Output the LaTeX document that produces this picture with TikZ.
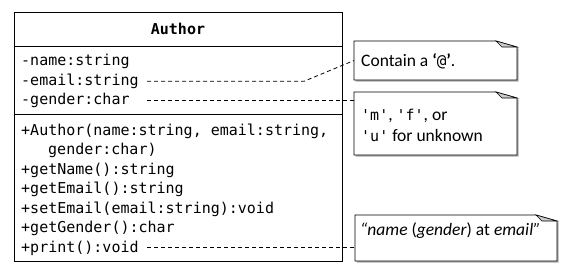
\documentclass[tikz,border=0pt]{standalone}
\usepackage{fontspec}
\setmainfont{Carlito}
\setmonofont{DejaVu Sans Mono}
\usetikzlibrary{calc}
\newcommand\notedraw[1]{%
  \fill[gray!65] ([xshift=1.6pt,yshift=-1.6pt]#1.north west) -- ([xshift=-19.4pt,yshift=-1.6pt]#1.north east) -- ([xshift=1.6pt,yshift=-7.6pt]#1.north east) -- ([xshift=1.6pt,yshift=-1.6pt]#1.south east) -- ([xshift=1.6pt,yshift=-1.6pt]#1.south west) -- cycle;
  \draw[notedge] (#1.north west) -- ([xshift=-21pt]#1.north east) -- ([yshift=-6pt]#1.north east) -- (#1.south east) -- (#1.south west) -- cycle;
  \draw[notefold] ([xshift=-21pt]#1.north east) -- ([xshift=-15pt,yshift=-6pt]#1.north east) -- ([yshift=-6pt]#1.north east) -- cycle;}
\begin{document}
\begin{tikzpicture}[x=1pt,y=-1pt,
  box/.style={draw, line width=0.8pt, inner sep=0pt, outer sep=0pt, minimum width=328pt},
  mono/.style={font=\fontsize{15}{18}\ttfamily, anchor=base west, inner sep=0pt},
  notetxt/.style={font=\fontsize{17.5}{21}\selectfont, anchor=base west, inner sep=0pt},
  notebox/.style={inner sep=0pt, outer sep=0pt},
  notedge/.style={draw, fill=white, line width=0.7pt},
  notefold/.style={draw, fill=gray!40, line width=0.6pt},
  conn/.style={line width=0.8pt, dash pattern=on 4pt off 3pt}]
\useasboundingbox (0,0) rectangle (568,274);
% class box
\node[box, minimum height=34pt] (title) at (178,29) {};
\node[box, minimum height=68pt] (attrs) at (178,80) {};
\node[box, minimum height=147pt] (meths) at (178,187.5) {};
\node[font=\fontsize{15}{18}\ttfamily\bfseries, anchor=base, inner sep=0pt] (tname) at (178,34) {Author};
% attributes
\node[mono] (a1) at (21,65) {-name:string};
\node[mono] (a2) at (21,85) {-email:string};
\node[mono] (a3) at (21,104.5) {-gender:char};
% methods
\node[mono] (m1) at (21,135) {+Author(name:string, email:string,};
\node[mono] (m2) at (48,154.5) {gender:char)};
\node[mono] (m3) at (21,174) {+getName():string};
\node[mono] (m4) at (21,193.5) {+getEmail():string};
\node[mono] (m5) at (21,213) {+setEmail(email:string):void};
\node[mono] (m6) at (21,232.5) {+getGender():char};
\node[mono] (m7) at (21,252) {+print():void};
% notes
\node[notebox, minimum width=163pt, minimum height=39pt] (n1) at (435.5,60.5) {};
\node[notebox, minimum width=163pt, minimum height=63pt] (n2) at (435.5,123.5) {};
\node[notebox, minimum width=202pt, minimum height=46pt] (n3) at (456,238) {};
\notedraw{n1}
\notedraw{n2}
\notedraw{n3}
\node[notetxt] (t1) at (361,66) {Contain a \textbf{‘}\texttt{\fontsize{16}{18}\selectfont @}\textbf{’}.};
\node[notetxt] (t2) at (361,120) {\texttt{\fontsize{15}{18}\selectfont 'm'}, \texttt{\fontsize{15}{18}\selectfont 'f'}, or};
\node[notetxt] (t3) at (361,141) {\texttt{\fontsize{15}{18}\selectfont 'u'} for unknown};
\node[notetxt] (t4) at (360,235) {\textit{“name} (\textit{gender}) at \textit{email”}};
% connectors
\coordinate (lx) at (147,0);
\coordinate (bend) at (304,0);
\draw[conn] ([yshift=-0.4pt]lx |- a2.east) -- ([yshift=-0.4pt]bend |- a2.east) -- (n1.west);
\draw[conn] (lx |- a3.east) -- (a3.east -| n2.west);
\draw[conn] (lx |- m7.east) -- (m7.east -| n3.west);
\end{tikzpicture}
\end{document}
